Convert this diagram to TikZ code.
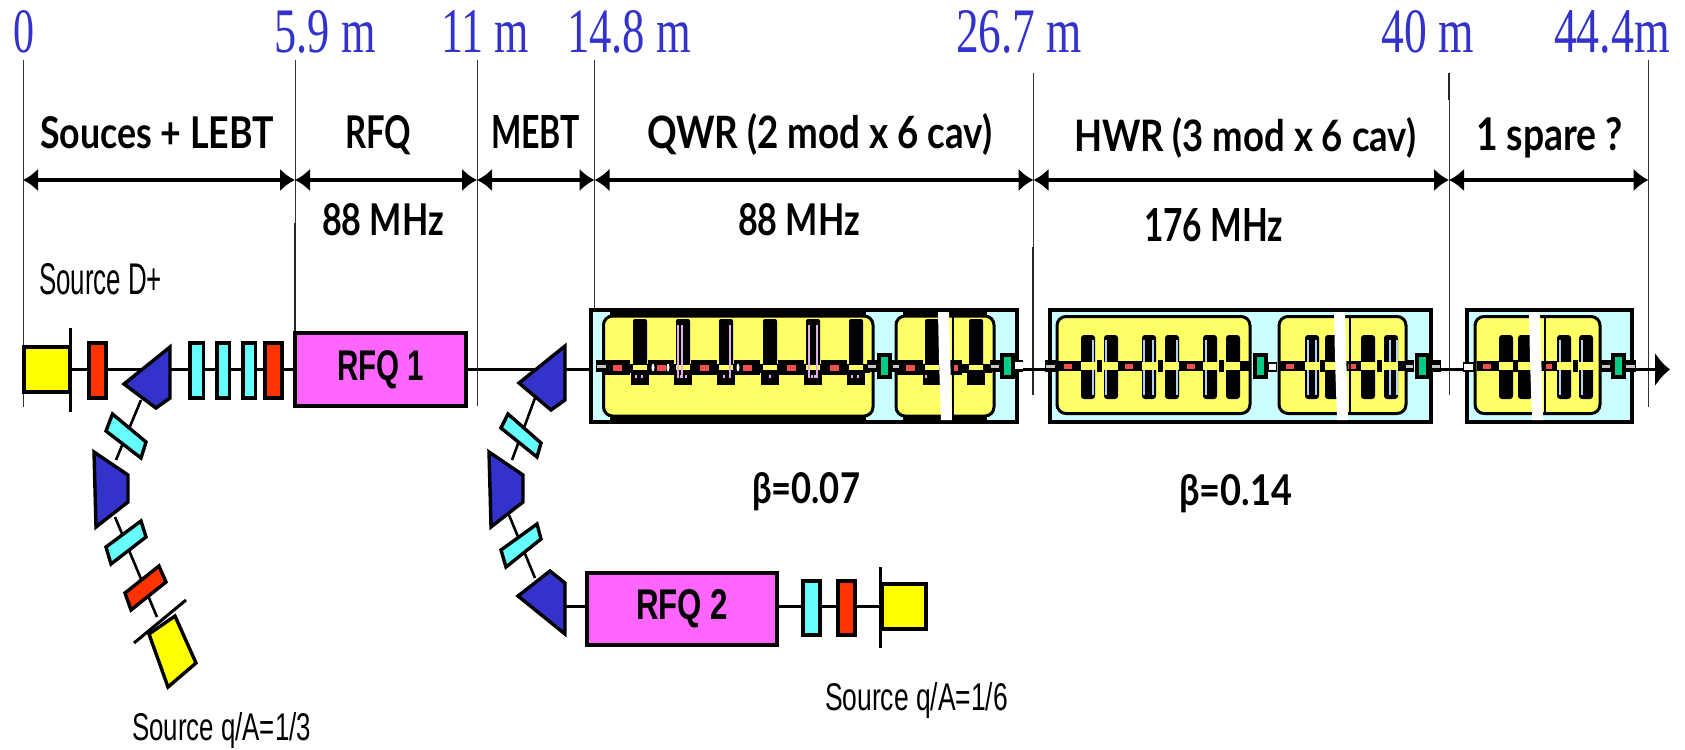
\documentclass[tikz,border=0pt]{standalone}
\usepackage{fontspec}
\usepackage{graphicx}
\usetikzlibrary{arrows.meta}
\setmainfont{Liberation Sans}
\newfontfamily\serf{Liberation Serif}
\newfontfamily\cmc{Lato}[BoldFont=* Bold]
\newcommand\fitt[3]{\resizebox{#1pt}{#2pt}{#3}}
\definecolor{bluetxt}{HTML}{3333CC}
\definecolor{bendblue}{HTML}{3333CC}
\definecolor{magn}{HTML}{FF66FF}
\definecolor{cyanq}{HTML}{66FFFF}
\definecolor{redq}{HTML}{FF3300}
\definecolor{yelsrc}{HTML}{FFFF00}
\definecolor{yelmod}{HTML}{FFFF66}
\definecolor{boxcy}{HTML}{CCFFFF}
\definecolor{greenq}{HTML}{00CC88}
\definecolor{redpipe}{HTML}{F05050}
\definecolor{pinkl}{HTML}{E0B0E8}
\definecolor{bluel}{HTML}{B0D0F0}
\definecolor{grayp}{HTML}{C8C8C8}
\tikzset{
 txt/.style={anchor=base west,inner sep=0pt,outer sep=0pt,text=black},
 dist/.style={txt,text=bluetxt,font=\serf},
 cmlab/.style={txt,font=\cmc\bfseries},
 thinlabel/.style={txt},
 vline/.style={draw=black!80,line width=1pt},
 vthick/.style={draw=black!85,line width=2.2pt},
 dimarrow/.style={line width=3.6pt,{Latex[length=15pt,width=23pt]}-{Latex[length=15pt,width=23pt]}},
 beam/.style={line width=3pt,draw=black},
 linkline/.style={line width=2.6pt,draw=black},
 partshape/.style={draw=black,line width=3.4pt,line join=miter},
 barline/.style={draw=black,line width=3pt},
 rfq/.style={draw=black,line width=4pt,fill=magn,inner sep=0pt,font=\bfseries},
 modyel/.style={fill=yelmod,draw=black,line width=3pt,rounded corners=9pt},
 cryo/.style={fill=boxcy,draw=black,line width=4pt},
}
% QWR stem
\newcommand\qstem[1]{%
 \fill[black,rounded corners=2pt] ({#1-7},319) rectangle ({#1+7},366);
 \fill[black] ({#1-9},373) rectangle ({#1+9},385);
 \fill[yelmod] ({#1-7},365) rectangle ({#1+7},370);}
\newcommand\qred[1]{%
 \fill[black] ({#1-13},360) rectangle ({#1+13},375);
 \fill[redpipe] ({#1-4.5},364.5) rectangle ({#1+4.5},371);}
\newcommand\hstem[1]{%
 \fill[black,rounded corners=3pt] ({#1-7},335) rectangle ({#1+7},399);
 \fill[yelmod] ({#1-7.5},362) rectangle ({#1+7.5},370);}
\newcommand\hred[1]{\fill[redpipe] ({#1-4},363.5) rectangle ({#1+4},368.5);}
\newcommand\hstrip[2]{\fill[black] (#1,361) rectangle (#2,371);}
\newcommand\hpair[2]{%
 \fill[yelmod] (#1,362) rectangle (#2,370);
 \fill[black] ({(#1+#2)/2-2.5},360) rectangle ({(#1+#2)/2+2.5},372);}
\newcommand\grayp[2]{%
 \fill[black] (#1,360) rectangle (#2,372);
 \fill[grayp] ({#1+1},364.5) rectangle ({#2-1},368);}
\newcommand\greenp[1]{%
 \fill[black] ({#1-7.5},353) rectangle ({#1+7.5},379);
 \fill[greenq] ({#1-3.5},357) rectangle ({#1+3.5},375);}
\newcommand\gapw[1]{\fill[white] ({#1},312) -- ({#1+11},312) -- ({#1+12},350) -- ({#1+14},420) -- ({#1+3},420) -- ({#1+1},360) -- cycle;}
\begin{document}
\begin{tikzpicture}[x=1pt,y=-1pt]
\useasboundingbox (0,0) rectangle (1685,749);
% named coordinates
\coordinate (d0) at (23,180); \coordinate (d1) at (295,180); \coordinate (d2) at (477,180);
\coordinate (d3) at (594.5,180); \coordinate (d4) at (1033.5,180); \coordinate (d5) at (1449,180);
\coordinate (d6) at (1648.5,180);
\coordinate (barA) at (70,369.5); \coordinate (beamTip) at (1670,369.5);
\coordinate (benda) at (141,400); \coordinate (bendb) at (116,460);
\coordinate (bendc) at (115,517); \coordinate (srcb) at (157,617);
\coordinate (bendd) at (535,398); \coordinate (bende) at (512,460);
\coordinate (bendf) at (509,515); \coordinate (bendg) at (535,578);
\coordinate (bendh) at (566,606); \coordinate (barC) at (880,606);
% vertical marks
\draw[vline] (23.5,60) -- (23.5,407);
\draw[vline] (295,60) -- (295,225);
\draw[vthick] (295,223) -- (295,334);
\draw[vline] (477,60) -- (477,406);
\draw[vline] (594.5,60) -- (594.5,310);
\draw[vline] (1033.5,73) -- (1033.5,250);
\draw[vthick] (1033,247) -- (1033,395);
\draw[vline] (1449,73) -- (1449,395);
\draw[vthick] (1449,73) -- (1449,100);
\draw[vline] (1648.5,60) -- (1648.5,407);
% distance labels
\node[dist] (m0) at (13,52.5) {\fitt{21}{42}{0}};
\node[dist] (m1) at (274.5,52.5) {\fitt{101}{42}{5.9 m}};
\node[dist] (m2) at (441,52.5) {\fitt{88}{42}{11 m}};
\node[dist] (m3) at (567,52.5) {\fitt{124}{42}{14.8 m}};
\node[dist] (m4) at (956,52.5) {\fitt{126}{42}{26.7 m}};
\node[dist] (m5) at (1381.5,52.5) {\fitt{92.5}{42}{40 m}};
\node[dist] (m6) at (1554,52.5) {\fitt{116}{42}{44.4m}};
% dimension arrows
\draw[dimarrow] (d0) -- (d1);
\draw[dimarrow] (d1) -- (d2);
\draw[dimarrow] (d2) -- (d3);
\draw[dimarrow] (d3) -- (d4);
\draw[dimarrow] (d4) -- (d5);
\draw[dimarrow] (d5) -- (d6);
% section labels
\node[cmlab] (s1) at (40,148) {\fitt{234}{32}{Souces + LEBT}};
\node[cmlab] (s2) at (345,148) {\fitt{66}{33}{RFQ}};
\node[cmlab] (s3) at (491,148) {\fitt{89}{33}{MEBT}};
\node[cmlab] (s4) at (647,148) {\fitt{345}{35}{QWR (2 mod x 6 cav)}};
\node[cmlab] (s5) at (1074,151) {\fitt{342}{34}{HWR (3 mod x 6 cav)}};
\node[cmlab] (s6) at (1476,150) {\fitt{147}{33}{1 spare ?}};
\node[cmlab] (f1) at (322,235) {\fitt{122}{32}{88 MHz}};
\node[cmlab] (f2) at (738,235) {\fitt{122}{32}{88 MHz}};
\node[cmlab] (f3) at (1144,241) {\fitt{139}{33}{176 MHz}};
\node[cmlab] (b1) at (752,503) {\fitt{108}{31}{β=0.07}};
\node[cmlab] (b2) at (1179,505) {\fitt{113}{31}{β=0.14}};
\node[thinlabel] (sD) at (39,294) {\fitt{123}{31}{Source D+}};
\node[thinlabel] (sA) at (132,740) {\fitt{179}{28}{Source q/A=1/3}};
\node[thinlabel] (sB) at (825,710) {\fitt{183}{28}{Source q/A=1/6}};
% RFQ nodes
\node[rfq,minimum width=171pt,minimum height=73pt] (rfqa) at (380.5,369.5) {\fitt{87}{30}{RFQ 1}};
\node[rfq,minimum width=190pt,minimum height=72pt] (rfqb) at (682,609) {\fitt{92}{30}{RFQ 2}};
% beam lines
\draw[beam] (barA) -- (rfqa.west);
\draw[beam,-{Latex[length=15pt,width=35pt]}] (rfqa.east) -- (beamTip);
\draw[beam] (bendh) -- (bendh -| rfqb.west);
\draw[beam] (barC -| rfqb.east) -- (barC);
\draw[linkline] (benda) -- (bendb);
\draw[linkline] (bendc) -- (srcb);
\draw[linkline] (bendd) -- (bende);
\draw[linkline] (bendf) -- (bendg);
% upper line components
\filldraw[partshape,fill=yelsrc] (24,347) rectangle (70,392);
\draw[barline] (70,328) -- (70,412);
\filldraw[partshape,fill=redq] (89,343) rectangle (106,398);
\filldraw[partshape,fill=bendblue] (170,347) -- (124,384) -- (156,408) -- (170,398) -- cycle;
\filldraw[partshape,fill=cyanq] (190,343) rectangle (203.5,398);
\filldraw[partshape,fill=cyanq] (217,343) rectangle (229.5,398);
\filldraw[partshape,fill=cyanq] (243,343) rectangle (255.5,398);
\filldraw[partshape,fill=redq] (265,343) rectangle (282,398);
% lower-left branch
\filldraw[partshape,fill=cyanq] (112.5,414) -- (146,442) -- (141,458) -- (106,431) -- cycle;
\filldraw[partshape,fill=bendblue] (94,452) -- (128,475) -- (128,502) -- (96,527) -- cycle;
\filldraw[partshape,fill=cyanq] (141,521) -- (146,537) -- (111,564) -- (106,547) -- cycle;
\filldraw[partshape,fill=redq] (159,566) -- (166,582) -- (131,610) -- (125,593) -- cycle;
\draw[barline] (134,643) -- (186,600);
\filldraw[partshape,fill=yelsrc] (149,634) -- (175,616) -- (196,663) -- (168,687) -- cycle;
% second branch
\filldraw[partshape,fill=bendblue] (565,346) -- (519,383) -- (551,410) -- (565,400) -- cycle;
\filldraw[partshape,fill=cyanq] (508,414) -- (541,443) -- (537,457) -- (501,428) -- cycle;
\filldraw[partshape,fill=bendblue] (489,452) -- (523,475) -- (523,502) -- (491,527) -- cycle;
\filldraw[partshape,fill=cyanq] (537,524) -- (541,539) -- (506,567) -- (501,550) -- cycle;
\filldraw[partshape,fill=bendblue] (518,596) -- (550,571) -- (565,583) -- (565,634) -- cycle;
\filldraw[partshape,fill=cyanq] (803,581) rectangle (820,635);
\filldraw[partshape,fill=redq] (838,581) rectangle (855,635);
\draw[barline] (880,567) -- (880,648);
\filldraw[partshape,fill=yelsrc] (882,584) rectangle (926,629);
% QWR cryomodules
\filldraw[cryo] (591,310) rectangle (1017,422);
\filldraw[modyel] (603.5,316) rectangle (873,416);
\filldraw[modyel] (896,316) rectangle (994,416);
\fill[black] (610,308) rectangle (866,317);
\fill[black] (610,415) rectangle (866,424);
\fill[black] (903,308) rectangle (987,317);
\fill[black] (903,415) rectangle (987,424);
\fill[black] (607,363.5) rectangle (870,373);
\fill[black] (900,363.5) rectangle (992,373);
\foreach \c in {640,683,726,770,813,856} {\qstem{\c}}
\foreach \r in {617,661,704,747,791,834} {\qred{\r}}
\foreach \c in {932,976} {\qstem{\c}}
\qred{910}
\fill[black] (948,360) rectangle (962,375);
\fill[redpipe] (953,364.5) rectangle (958,371);
\foreach \c in {640,726,770,856} {\fill[yelmod] ({\c-7},365) rectangle ({\c+7},370);}
\foreach \x in {678,682,730,809,817} {\fill[pinkl] (\x-0.7,325) rectangle (\x+0.7,378);}
\foreach \x in {636,642,681,686,724,770,812,815,852,858,926} {\fill[pinkl] (\x-0.8,375) rectangle (\x+0.8,378);}
\foreach \x in {653,668,738} {\fill[white] (\x,367.5) ellipse (1.5pt and 4pt);}
\grayp{596}{607}
\grayp{867}{877}
\grayp{892}{900}
\grayp{990}{1000}
\fill[black] (1014,360) rectangle (1023,372);
\fill[white] (1015,362) rectangle (1023,369);
\greenp{884.5}
\greenp{1007}
\gapw{938}
\draw[black,line width=1.5pt] (953,316) -- (953,417);
% HWR cryomodules
\filldraw[cryo] (1050,310) rectangle (1431,422);
\filldraw[modyel] (1057,316.5) rectangle (1250,413.5);
\filldraw[modyel] (1279,316.5) rectangle (1406,413.5);
\foreach \c in {1088,1111,1149,1172,1210,1233,1312,1332,1368,1391} {\hstem{\c}}
\hstrip{1058}{1081}
\hstrip{1118}{1142}
\hstrip{1179}{1203}
\hstrip{1240}{1250}
\hstrip{1280}{1305}
\hstrip{1339}{1361}
\hstrip{1398}{1405}
\hpair{1095}{1104}
\hpair{1156}{1165}
\hpair{1217}{1226}
\hpair{1319}{1325}
\hpair{1375}{1384}
\foreach \r in {1068,1129,1191,1290,1352} {\hred{\r}}
\foreach \x in {1093,1106,1144,1153,1177,1206,1308,1316,1390,1397}
 {\fill[bluel] (\x-0.8,340) rectangle (\x+0.8,362); \fill[bluel] (\x-0.8,370) rectangle (\x+0.8,395);}
\grayp{1045}{1056}
\fill[black] (1268,362) rectangle (1277,372);
\fill[white] (1269,364) rectangle (1276,370);
\grayp{1405}{1414}
\grayp{1431}{1441}
\greenp{1260}
\greenp{1422.5}
\gapw{1334}
\draw[black,line width=1.5pt] (1350,316) -- (1350,415);
% spare cryomodule
\filldraw[cryo] (1467,310) rectangle (1632,422);
\filldraw[modyel] (1475,316.5) rectangle (1600,413.5);
\foreach \c in {1506,1525,1564,1586} {\hstem{\c}}
\hstrip{1477}{1499}
\hstrip{1532}{1557}
\hpair{1513}{1518}
\hpair{1571}{1579}
\foreach \r in {1487,1548} {\hred{\r}}
\foreach \x in {1560,1582} {\fill[bluel] (\x-0.8,340) rectangle (\x+0.8,362); \fill[bluel] (\x-0.8,370) rectangle (\x+0.8,395);}
\fill[black] (1463,362) rectangle (1474,372);
\fill[white] (1464,364) rectangle (1473,370);
\grayp{1601}{1611}
\grayp{1625}{1636}
\greenp{1618}
\gapw{1529}
\draw[black,line width=1.5pt] (1545,316) -- (1545,415);
\end{tikzpicture}
\end{document}
